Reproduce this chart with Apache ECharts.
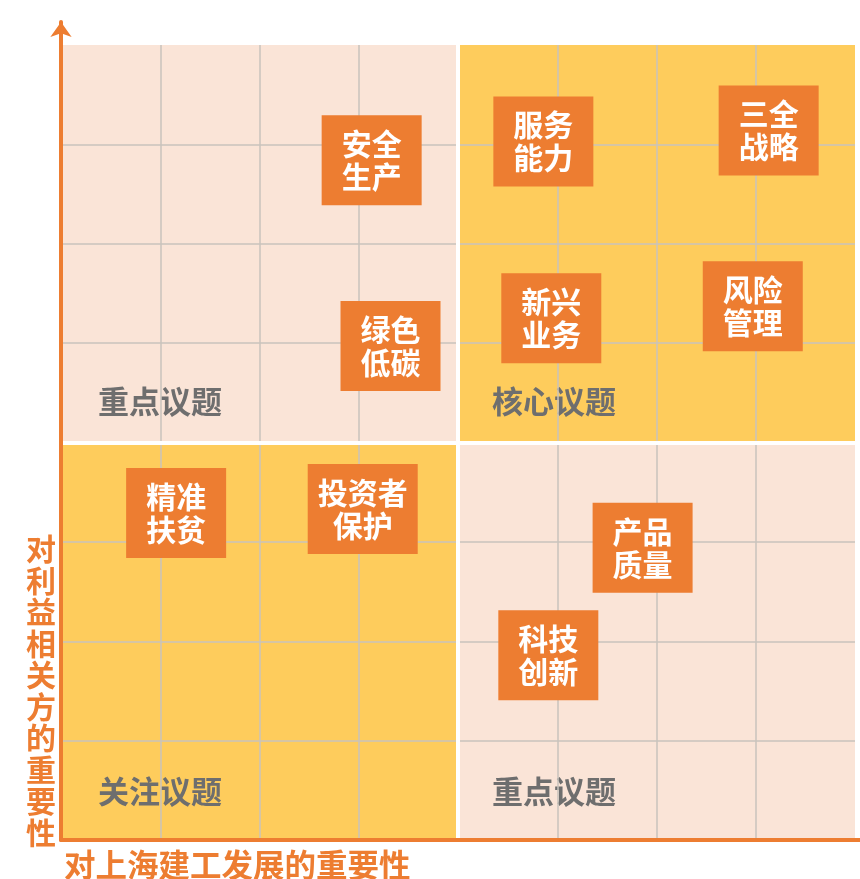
<!DOCTYPE html>
<html>
<head>
<meta charset="utf-8">
<script src="https://cdn.jsdelivr.net/npm/echarts@6/dist/echarts.min.js"></script>
<style>
  html, body { margin: 0; padding: 0; background: #fff; }
  #chart { width: 860px; height: 879px; }
</style>
</head>
<body>
<div id="chart"></div>
<script>
// 议题名称
const topicNames = ['安全生产', '服务能力', '三全战略', '新兴业务', '风险管理', '绿色低碳', '精准扶贫', '投资者保护', '产品质量', '科技创新']
// 对上海建工发展的重要性 (横轴)
const devImportance = [3.13, 4.86, 7.13, 4.94, 6.97, 3.32, 1.16, 3.04, 5.86, 4.91]
// 对利益相关方的重要性 (纵轴)
const stakeholderImportance = [6.84, 7.03, 7.14, 5.25, 5.37, 4.97, 3.29, 3.33, 2.94, 1.86]
// 象限名称: 左上, 右上, 左下, 右下
const quadrantNames = ['重点议题', '核心议题', '关注议题', '重点议题']
const xAxisName = '对上海建工发展的重要性'
const yAxisName = '对利益相关方的重要性'

const orange = '#ED7D31'
const pink = '#FAE4D7'
const yellow = '#FECC5C'
const gridGray = '#C9C3BC'
const font = '"Noto Sans CJK SC", "Noto Sans", sans-serif'

var chart = echarts.init(document.getElementById('chart'))

let points = topicNames.map((name, i) => ({
    name: name,
    value: [devImportance[i], stakeholderImportance[i]],
    symbolSize: name.length > 4 ? [110, 90] : [100, 90],
}))

// 名称换行: 第一行 2 字 (5 字时 3 字)
function splitName(name) {
    let n = name.length > 4 ? 3 : 2
    return name.slice(0, n) + '\n' + name.slice(n)
}

function quadLabel(text, pos) {
    return {
        show: true,
        formatter: text,
        position: pos,
        align: 'left',
        verticalAlign: 'middle',
        color: '#6E6E6E',
        fontSize: 31,
        fontWeight: 'bold',
        fontFamily: font,
    }
}

// 四个象限: [x0, y0, x1, y1]
const quads = [[0, 8, 4, 4], [4, 8, 8, 4], [0, 4, 4, 0], [4, 4, 8, 0]]
const quadColors = [pink, yellow, yellow, pink]
const quadLabelPos = [[37, 356], [34, 356], [37, 349], [34, 349]]

var option = {
    animation: false,
    title: [
        {
            text: xAxisName,
            left: 59,
            top: 844,
            textStyle: { color: orange, fontSize: 31.5, fontWeight: 'bold', fontFamily: font },
        },
        {
            text: yAxisName.split('').join('\n'),
            left: 21,
            top: 528,
            textStyle: { color: orange, fontSize: 30, lineHeight: 31.5, fontWeight: 'bold', fontFamily: font },
        },
    ],
    grid: [
        // 绘图区
        { left: 61, right: 5, top: 45, bottom: 39 },
        // 坐标轴线 (带箭头)
        { left: 61, right: 0, top: 22, bottom: 39 },
    ],
    xAxis: [
        {
            type: 'value',
            gridIndex: 0,
            min: 0,
            max: 8,
            interval: 1,
            z: 2,
            axisLine: { show: false },
            axisTick: { show: false },
            axisLabel: { show: false },
            splitLine: {
                show: true,
                showMinLine: false,
                showMaxLine: false,
                lineStyle: { color: gridGray, width: 1.5 },
            },
        },
        {
            type: 'value',
            gridIndex: 1,
            min: 0,
            max: 1,
            z: 6,
            axisLine: { show: true, lineStyle: { color: orange, width: 4 } },
            axisTick: { show: false },
            axisLabel: { show: false },
            splitLine: { show: false },
        },
    ],
    yAxis: [
        {
            type: 'value',
            gridIndex: 0,
            min: 0,
            max: 8,
            interval: 1,
            z: 2,
            axisLine: { show: false },
            axisTick: { show: false },
            axisLabel: { show: false },
            splitLine: {
                show: true,
                showMinLine: false,
                showMaxLine: false,
                lineStyle: { color: gridGray, width: 1.5 },
            },
        },
        {
            type: 'value',
            gridIndex: 1,
            min: 0,
            max: 1,
            z: 6,
            axisLine: {
                show: true,
                symbol: ['none', 'arrow'],
                symbolSize: [16, 15],
                lineStyle: { color: orange, width: 4 },
            },
            axisTick: { show: false },
            axisLabel: { show: false },
            splitLine: { show: false },
        },
    ],
    series: [
        {
            // 象限背景
            type: 'scatter',
            z: 1,
            silent: true,
            data: [],
            markArea: {
                silent: true,
                data: quads.map((q, i) => [
                    { xAxis: q[0], yAxis: q[1], itemStyle: { color: quadColors[i] } },
                    { xAxis: q[2], yAxis: q[3] },
                ]),
            },
        },
        {
            // 象限名称
            type: 'scatter',
            z: 3,
            silent: true,
            data: [],
            markArea: {
                silent: true,
                itemStyle: { color: 'rgba(0,0,0,0)' },
                data: quads.map((q, i) => [
                    { xAxis: q[0], yAxis: q[1], label: quadLabel(quadrantNames[i], quadLabelPos[i]) },
                    { xAxis: q[2], yAxis: q[3] },
                ]),
            },
        },
        {
            // 象限白色分隔线
            type: 'scatter',
            z: 4,
            silent: true,
            data: [],
            markLine: {
                silent: true,
                symbol: 'none',
                label: { show: false },
                lineStyle: { color: '#fff', width: 4, type: 'solid' },
                data: [{ xAxis: 4 }, { yAxis: 4 }],
            },
        },
        {
            type: 'scatter',
            z: 5,
            symbol: 'rect',
            itemStyle: { color: orange, opacity: 1 },
            label: {
                show: true,
                position: 'inside',
                formatter: p => splitName(p.name),
                color: '#fff',
                fontSize: 30,
                lineHeight: 33,
                fontWeight: 'bold',
                fontFamily: font,
            },
            data: points,
        },
    ],
}
option && chart.setOption(option)
</script>
</body>
</html>
